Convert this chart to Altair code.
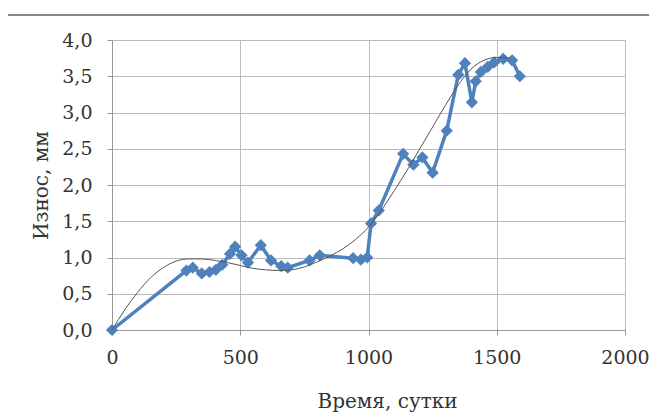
import altair as alt
import pandas as pd

# measured series (days, wear mm)
days = [0, 290, 315, 350, 380, 405, 430, 460, 480, 505, 530, 580, 620, 660, 685,
        770, 810, 940, 970, 995, 1010, 1040, 1135, 1175, 1210, 1250, 1305,
        1350, 1376, 1403, 1418, 1438, 1465, 1490, 1525, 1560, 1590]
wear = [0.0, 0.82, 0.86, 0.78, 0.80, 0.83, 0.90, 1.05, 1.15, 1.03, 0.93, 1.17, 0.96,
        0.88, 0.86, 0.96, 1.03, 0.99, 0.97, 1.00, 1.47, 1.65, 2.43, 2.28, 2.38,
        2.17, 2.75, 3.52, 3.68, 3.14, 3.43, 3.56, 3.63, 3.69, 3.74, 3.72, 3.50]

# trend curve
trend_days = [0, 50, 100, 150, 200, 250, 300, 350, 400, 450, 500, 550, 600, 650,
              700, 750, 800, 850, 900, 950, 1000, 1050, 1100, 1150, 1200, 1250,
              1300, 1350, 1400, 1450, 1500, 1550]
trend_wear = [0.0, 0.28, 0.52, 0.72, 0.86, 0.95, 0.98, 0.98, 0.96, 0.93, 0.89, 0.85,
              0.83, 0.82, 0.83, 0.87, 0.94, 1.02, 1.12, 1.25, 1.42, 1.65, 1.92,
              2.20, 2.50, 2.80, 3.10, 3.38, 3.60, 3.72, 3.76, 3.75]

x_ticks = [0, 500, 1000, 1500, 2000]
y_ticks = [0, 0.5, 1.0, 1.5, 2.0, 2.5, 3.0, 3.5, 4.0]

df = pd.DataFrame({"t": days, "w": wear})
tdf = pd.DataFrame({"t": trend_days, "w": trend_wear})

FONT = "DejaVu Serif"

xs = alt.Scale(domain=[0, 2000], nice=False)
ys = alt.Scale(domain=[0, 4], nice=False)

x_axis = alt.Axis(values=x_ticks, title="Время, сутки", grid=True, format="d",
                  labelFlush=False, labelOverlap=False,
                  labelPadding=13, titlePadding=24, tickSize=5, titleX=275)
y_axis = alt.Axis(values=y_ticks, title="Износ, мм", grid=True,
                  labelExpr="replace(format(datum.value, '.1f'), '.', ',')",
                  labelFlush=False, labelOverlap=False,
                  labelPadding=15, titlePadding=10, tickSize=5)

series_line = alt.Chart(df).mark_line(color="#4F81BD", strokeWidth=3.5).encode(
    x=alt.X("t:Q", scale=xs, axis=x_axis),
    y=alt.Y("w:Q", scale=ys, axis=y_axis),
)
series_pts = alt.Chart(df).mark_point(shape="diamond", filled=True, size=150, color="#4F81BD", opacity=1).encode(
    x=alt.X("t:Q", scale=xs, axis=x_axis),
    y=alt.Y("w:Q", scale=ys, axis=y_axis),
)
trend = alt.Chart(tdf).mark_line(color="#555", strokeWidth=1, interpolate="monotone").encode(
    x=alt.X("t:Q", scale=xs, axis=x_axis),
    y=alt.Y("w:Q", scale=ys, axis=y_axis),
)
top_rule = alt.Chart(df).mark_rule(color="#888", strokeWidth=2).encode(
    x=alt.value(-112), x2=alt.value(560), y=alt.value(-25)
)

chart = alt.layer(series_line, series_pts, trend, top_rule).properties(
    width=513, height=290,
    autosize=alt.AutoSizeParams(type="none"),
    padding={"left": 104, "top": 32, "right": 24, "bottom": 82},
).configure_view(stroke=None).configure(background="white").configure_axis(
    labelFont=FONT, labelFontSize=19, labelColor="#333",
    titleFont=FONT, titleFontSize=20, titleFontWeight="normal", titleColor="#333",
    tickColor="#999", domainColor="#999", gridColor="#bbb",
)

chart.save("out.html", embed_options={"renderer": "svg", "actions": False})
